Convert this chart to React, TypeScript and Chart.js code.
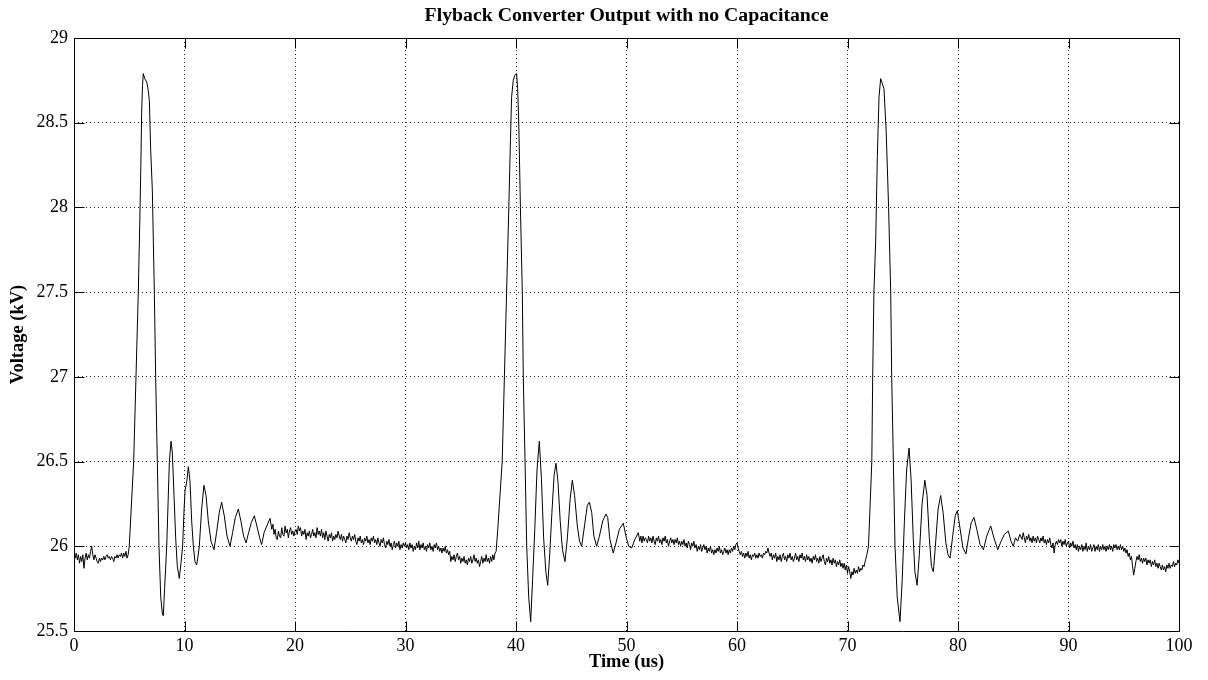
import React, { useEffect, useRef } from "react";
import { Chart, registerables } from "chart.js";

Chart.register(...registerables);

type P = [number, number];

const chartTitle = "Flyback Converter Output with no Capacitance";
const xTitle = "Time (us)";
const yTitle = "Voltage (kV)";
const xMin = 0, xMax = 100, xStep = 10;
const yMin = 25.5, yMax = 29, yStep = 0.5;

const baseline0to5: P[] = [
  [0.0, 25.95], [0.1, 25.93], [0.2, 25.96], [0.3, 25.92], [0.4, 25.95], [0.5, 25.9], [0.6, 25.94], [0.7, 25.91],
  [0.8, 25.95], [0.9, 25.87], [1.0, 25.93], [1.1, 25.96], [1.2, 25.92], [1.3, 25.95], [1.4, 25.93], [1.5, 25.97],
  [1.6, 26.0], [1.7, 25.95], [1.8, 25.92], [1.9, 25.95], [2.0, 25.93], [2.1, 25.91], [2.2, 25.9], [2.3, 25.93],
  [2.4, 25.91], [2.5, 25.93], [2.6, 25.92], [2.7, 25.94], [2.8, 25.92], [2.9, 25.94], [3.0, 25.95], [3.1, 25.93],
  [3.2, 25.94], [3.3, 25.92], [3.4, 25.94], [3.5, 25.93], [3.6, 25.91], [3.7, 25.94], [3.8, 25.93], [3.9, 25.95],
  [4.0, 25.93], [4.1, 25.95], [4.2, 25.94], [4.3, 25.96], [4.4, 25.93], [4.5, 25.96], [4.6, 25.94], [4.7, 25.97],
  [4.8, 25.93], [4.9, 25.95],
];

const pulse1: P[] = [
  [5.0, 26.0], [5.2, 26.25], [5.4, 26.5], [5.61, 27.0], [5.82, 27.5], [5.95, 27.9], [6.06, 28.28], [6.12, 28.56],
  [6.2, 28.72], [6.27, 28.79], [6.4, 28.76], [6.58, 28.74], [6.7, 28.7], [6.82, 28.63], [6.94, 28.34], [7.09, 28.1],
  [7.27, 27.5], [7.39, 27.0], [7.54, 26.5], [7.69, 26.0], [7.85, 25.7], [8.0, 25.6], [8.08, 25.59], [8.2, 25.75],
  [8.39, 26.0], [8.63, 26.5], [8.78, 26.62],
];

const ringing1: P[] = [
  [8.9, 26.55], [9.05, 26.3], [9.2, 26.05], [9.35, 25.88], [9.53, 25.81], [9.68, 25.9], [9.83, 26.0], [9.95, 26.2],
  [10.05, 26.33], [10.2, 26.38], [10.35, 26.47], [10.5, 26.38], [10.65, 26.15], [10.8, 26.0], [10.95, 25.91],
  [11.1, 25.89], [11.2, 25.93], [11.34, 26.0], [11.55, 26.22], [11.76, 26.36], [11.95, 26.3], [12.15, 26.15],
  [12.4, 26.03], [12.67, 25.98], [12.9, 26.08], [13.15, 26.2], [13.36, 26.26], [13.6, 26.18], [13.85, 26.06],
  [14.12, 26.0], [14.35, 26.08], [14.6, 26.17], [14.87, 26.22], [15.1, 26.15], [15.35, 26.06], [15.57, 26.02],
  [15.8, 26.08], [16.05, 26.14], [16.32, 26.18], [16.55, 26.12], [16.8, 26.05], [16.98, 26.01], [17.2, 26.08],
  [17.45, 26.12], [17.74, 26.165], [17.9, 26.1], [18.0, 26.13], [18.1, 26.07], [18.2, 26.1], [18.3, 26.05],
  [18.4, 26.04], [18.5, 26.09], [18.6, 26.06], [18.7, 26.05], [18.8, 26.11], [18.9, 26.07], [19.0, 26.06],
  [19.1, 26.12], [19.2, 26.08], [19.3, 26.1], [19.4, 26.05], [19.5, 26.09], [19.6, 26.11], [19.7, 26.07],
  [19.8, 26.09], [19.9, 26.06], [20.0, 26.09],
];

const drift20to38: P[] = [
  [20.1, 26.1], [20.2, 26.07], [20.3, 26.12], [20.4, 26.09], [20.5, 26.11], [20.6, 26.06], [20.7, 26.09],
  [20.8, 26.07], [20.9, 26.1], [21.0, 26.04], [21.1, 26.08], [21.2, 26.06], [21.3, 26.09], [21.4, 26.05],
  [21.5, 26.07], [21.6, 26.1], [21.7, 26.06], [21.8, 26.08], [21.9, 26.05], [22.0, 26.11], [22.1, 26.07],
  [22.2, 26.09], [22.3, 26.06], [22.4, 26.1], [22.5, 26.05], [22.6, 26.08], [22.7, 26.04], [22.8, 26.09],
  [22.9, 26.06], [23.0, 26.03], [23.1, 26.07], [23.2, 26.05], [23.3, 26.08], [23.4, 26.03], [23.5, 26.06],
  [23.6, 26.04], [23.7, 26.07], [23.8, 26.05], [23.9, 26.09], [24.0, 26.06], [24.1, 26.04], [24.2, 26.07],
  [24.3, 26.03], [24.4, 26.06], [24.5, 26.04], [24.6, 26.02], [24.7, 26.06], [24.8, 26.04], [24.9, 26.08],
  [25.0, 26.05], [25.1, 26.03], [25.2, 26.06], [25.3, 26.04], [25.4, 26.07], [25.5, 26.03], [25.6, 26.01],
  [25.7, 26.05], [25.8, 26.03], [25.9, 26.06], [26.0, 26.02], [26.1, 26.04], [26.2, 26.01], [26.3, 26.05],
  [26.4, 26.03], [26.5, 26.06], [26.6, 26.02], [26.7, 26.04], [26.8, 26.01], [26.9, 26.05], [27.0, 26.03],
  [27.1, 26.06], [27.2, 26.02], [27.3, 26.04], [27.4, 26.01], [27.5, 26.05], [27.6, 26.02], [27.7, 26.0],
  [27.8, 26.04], [27.9, 26.02], [28.0, 26.05], [28.1, 26.01], [28.2, 25.99], [28.3, 26.03], [28.4, 26.01],
  [28.5, 26.04], [28.6, 26.0], [28.7, 26.02], [28.8, 25.98], [28.9, 26.01], [29.0, 26.03], [29.1, 25.99],
  [29.2, 26.02], [29.3, 26.0], [29.4, 26.03], [29.5, 25.98], [29.6, 26.01], [29.7, 25.99], [29.8, 26.02],
  [29.9, 26.0], [30.0, 26.02], [30.1, 25.99], [30.2, 26.01], [30.3, 25.98], [30.4, 26.02], [30.5, 25.99],
  [30.6, 26.01], [30.7, 25.97], [30.8, 26.0], [30.9, 25.98], [31.0, 26.02], [31.1, 25.99], [31.2, 26.03],
  [31.3, 25.98], [31.4, 26.01], [31.5, 25.99], [31.6, 26.02], [31.7, 25.98], [31.8, 26.0], [31.9, 25.97],
  [32.0, 26.01], [32.1, 25.99], [32.2, 26.02], [32.3, 25.98], [32.4, 26.0], [32.5, 25.97], [32.6, 26.01],
  [32.7, 25.99], [32.8, 26.02], [32.9, 25.98], [33.0, 26.0], [33.1, 25.97], [33.2, 25.99], [33.3, 25.96],
  [33.4, 25.99], [33.5, 25.97], [33.6, 26.0], [33.7, 25.96], [33.8, 25.98], [33.9, 25.95], [34.0, 25.97],
  [34.1, 25.91], [34.2, 25.94], [34.3, 25.92], [34.4, 25.95], [34.5, 25.91], [34.6, 25.94], [34.7, 25.96],
  [34.8, 25.92], [34.9, 25.94], [35.0, 25.9], [35.1, 25.93], [35.2, 25.91], [35.3, 25.94], [35.4, 25.9],
  [35.5, 25.92], [35.6, 25.89], [35.7, 25.93], [35.8, 25.91], [35.9, 25.94], [36.0, 25.9], [36.1, 25.92],
  [36.2, 25.95], [36.3, 25.91], [36.4, 25.93], [36.5, 25.9], [36.6, 25.92], [36.7, 25.88], [36.8, 25.91],
  [36.9, 25.94], [37.0, 25.9], [37.1, 25.93], [37.2, 25.91], [37.3, 25.95], [37.4, 25.91], [37.5, 25.93],
  [37.6, 25.9], [37.7, 25.94], [37.8, 25.91], [37.9, 25.95], [38.0, 25.92], [38.1, 25.96],
];

const pulse2: P[] = [
  [38.2, 25.97], [38.35, 26.1], [38.55, 26.3], [38.75, 26.5], [38.95, 27.0], [39.15, 27.5], [39.35, 28.0],
  [39.5, 28.4], [39.6, 28.65], [39.75, 28.75], [39.9, 28.78], [40.05, 28.79], [40.15, 28.7], [40.25, 28.5],
  [40.4, 28.0], [40.57, 27.5], [40.66, 27.0], [40.82, 26.5], [40.97, 26.0], [41.15, 25.7], [41.33, 25.555],
  [41.5, 25.8], [41.7, 26.1], [41.9, 26.45], [42.11, 26.62],
];

const ringing2: P[] = [
  [42.3, 26.4], [42.5, 26.05], [42.7, 25.85], [42.87, 25.77], [43.05, 25.95], [43.25, 26.2], [43.45, 26.42],
  [43.62, 26.49], [43.8, 26.38], [44.0, 26.15], [44.2, 25.98], [44.43, 25.91], [44.65, 26.05], [44.9, 26.28],
  [45.1, 26.39], [45.3, 26.3], [45.55, 26.12], [45.75, 26.03], [45.94, 26.0], [46.2, 26.12], [46.45, 26.24],
  [46.64, 26.26], [46.85, 26.2], [47.05, 26.06], [47.3, 26.0], [47.55, 26.06], [47.85, 26.15], [48.14, 26.19],
  [48.3, 26.17], [48.5, 26.04], [48.8, 25.96], [49.05, 26.02], [49.35, 26.1], [49.71, 26.136], [49.95, 26.06],
  [50.2, 26.0], [50.47, 25.99], [50.75, 26.04], [51.07, 26.08], [51.2, 26.03], [51.3, 26.06], [51.4, 26.02],
  [51.5, 26.06], [51.6, 26.03], [51.7, 26.05],
];

const drift52to71: P[] = [
  [51.8, 26.04], [51.9, 26.02], [52.0, 26.06], [52.1, 26.03], [52.2, 26.05], [52.3, 26.02], [52.4, 26.06],
  [52.5, 26.03], [52.6, 26.01], [52.7, 26.05], [52.8, 26.03], [52.9, 26.06], [53.0, 26.02], [53.1, 26.04],
  [53.2, 26.01], [53.3, 26.05], [53.4, 26.03], [53.5, 26.06], [53.6, 26.02], [53.7, 26.04], [53.8, 26.0],
  [53.9, 26.03], [54.0, 26.05], [54.1, 26.02], [54.2, 26.04], [54.3, 26.01], [54.4, 26.04], [54.5, 26.02],
  [54.6, 26.05], [54.7, 26.01], [54.8, 26.03], [54.9, 26.0], [55.0, 26.03], [55.1, 26.01], [55.2, 26.04],
  [55.3, 26.0], [55.4, 26.02], [55.5, 25.99], [55.6, 26.03], [55.7, 26.01], [55.8, 25.98], [55.9, 26.02],
  [56.0, 26.0], [56.1, 26.03], [56.2, 25.99], [56.3, 26.01], [56.4, 25.97], [56.5, 26.0], [56.6, 25.98],
  [56.7, 26.01], [56.8, 25.97], [56.9, 25.99], [57.0, 26.01], [57.1, 25.98], [57.2, 26.0], [57.3, 25.96],
  [57.4, 25.99], [57.5, 25.97], [57.6, 26.0], [57.7, 25.96], [57.8, 25.98], [57.9, 25.95], [58.0, 25.98],
  [58.1, 25.96], [58.2, 25.99], [58.3, 25.97], [58.4, 26.0], [58.5, 25.96], [58.6, 25.98], [58.7, 25.95],
  [58.8, 25.97], [58.9, 25.99], [59.0, 25.96], [59.1, 25.98], [59.2, 25.95], [59.3, 25.98], [59.4, 25.96],
  [59.5, 25.99], [59.6, 25.97], [59.7, 26.0], [59.8, 25.98], [59.9, 26.01], [60.0, 26.02], [60.1, 25.99],
  [60.2, 25.97], [60.3, 25.95], [60.4, 25.97], [60.5, 25.94], [60.6, 25.96], [60.7, 25.93], [60.8, 25.96],
  [60.9, 25.94], [61.0, 25.97], [61.1, 25.93], [61.2, 25.95], [61.3, 25.92], [61.4, 25.95], [61.5, 25.94],
  [61.6, 25.96], [61.7, 25.93], [61.8, 25.95], [61.9, 25.93], [62.0, 25.96], [62.1, 25.94], [62.2, 25.95],
  [62.3, 25.93], [62.4, 25.96], [62.5, 25.95], [62.6, 25.97], [62.7, 25.96], [62.8, 25.99], [62.9, 25.96],
  [63.0, 25.94], [63.1, 25.96], [63.2, 25.92], [63.3, 25.95], [63.4, 25.93], [63.5, 25.96], [63.6, 25.91],
  [63.7, 25.94], [63.8, 25.92], [63.9, 25.95], [64.0, 25.91], [64.1, 25.94], [64.2, 25.96], [64.3, 25.92],
  [64.4, 25.94], [64.5, 25.91], [64.6, 25.95], [64.7, 25.93], [64.8, 25.96], [64.9, 25.92], [65.0, 25.94],
  [65.1, 25.91], [65.2, 25.93], [65.3, 25.96], [65.4, 25.92], [65.5, 25.94], [65.6, 25.91], [65.7, 25.95],
  [65.8, 25.93], [65.9, 25.96], [66.0, 25.92], [66.1, 25.94], [66.2, 25.91], [66.3, 25.95], [66.4, 25.92],
  [66.5, 25.94], [66.6, 25.91], [66.7, 25.93], [66.8, 25.9], [66.9, 25.94], [67.0, 25.92], [67.1, 25.95],
  [67.2, 25.91], [67.3, 25.93], [67.4, 25.9], [67.5, 25.94], [67.6, 25.91], [67.7, 25.93], [67.8, 25.95],
  [67.9, 25.91], [68.0, 25.89], [68.1, 25.93], [68.2, 25.91], [68.3, 25.94], [68.4, 25.9], [68.5, 25.92],
  [68.6, 25.89], [68.7, 25.93], [68.8, 25.9], [68.9, 25.92], [69.0, 25.88], [69.1, 25.91], [69.2, 25.89],
  [69.3, 25.92], [69.4, 25.88], [69.5, 25.9], [69.6, 25.87], [69.7, 25.9], [69.8, 25.86], [69.9, 25.89],
  [70.0, 25.84], [70.1, 25.88], [70.2, 25.85], [70.3, 25.81], [70.4, 25.85], [70.5, 25.83], [70.6, 25.87],
  [70.7, 25.84], [70.8, 25.86], [70.9, 25.84], [71.0, 25.88], [71.1, 25.85], [71.2, 25.87], [71.3, 25.86],
  [71.4, 25.89], [71.5, 25.88], [71.6, 25.91],
];

const pulse3: P[] = [
  [71.75, 25.95], [71.9, 26.0], [72.05, 26.25], [72.2, 26.5], [72.28, 27.0], [72.39, 27.5], [72.55, 27.8],
  [72.7, 28.3], [72.85, 28.65], [73.0, 28.76], [73.15, 28.73], [73.3, 28.7], [73.5, 28.45], [73.72, 28.0],
  [73.91, 27.5], [74.0, 27.0], [74.15, 26.5], [74.3, 26.0], [74.5, 25.7], [74.75, 25.555], [74.95, 25.8],
  [75.15, 26.15], [75.35, 26.45], [75.57, 26.58],
];

const ringing3: P[] = [
  [75.75, 26.4], [75.95, 26.05], [76.1, 25.85], [76.3, 25.77], [76.5, 25.95], [76.75, 26.25], [77.0, 26.39],
  [77.2, 26.3], [77.4, 26.05], [77.6, 25.88], [77.77, 25.85], [77.95, 26.0], [78.2, 26.22], [78.43, 26.3],
  [78.65, 26.2], [78.9, 26.02], [79.1, 25.95], [79.28, 25.93], [79.5, 26.05], [79.75, 26.18], [79.94, 26.21],
  [80.15, 26.12], [80.45, 25.99], [80.72, 25.955], [80.95, 26.05], [81.2, 26.14], [81.45, 26.17], [81.7, 26.1],
  [82.0, 26.01], [82.3, 25.98], [82.6, 26.06], [82.96, 26.12], [83.25, 26.05], [83.6, 25.98], [83.9, 26.03],
  [84.2, 26.07], [84.55, 26.09], [84.8, 26.03], [85.0, 26.0], [85.2, 26.05], [85.4, 26.03], [85.6, 26.07],
  [85.8, 26.04], [85.9, 26.08],
];

const drift86to100: P[] = [
  [86.0, 26.05], [86.1, 26.02], [86.2, 26.06], [86.3, 26.04], [86.4, 26.07], [86.5, 26.03], [86.6, 26.05],
  [86.7, 26.02], [86.8, 26.06], [86.9, 26.03], [87.0, 26.05], [87.1, 26.02], [87.2, 26.06], [87.3, 26.04],
  [87.4, 26.02], [87.5, 26.05], [87.6, 26.03], [87.7, 26.06], [87.8, 26.02], [87.9, 26.04], [88.0, 26.01],
  [88.1, 26.04], [88.2, 26.02], [88.3, 26.05], [88.4, 26.01], [88.5, 25.99], [88.6, 26.02], [88.7, 25.96],
  [88.8, 26.01], [88.9, 26.03], [89.0, 26.01], [89.1, 26.04], [89.2, 26.02], [89.3, 26.04], [89.4, 26.0],
  [89.5, 26.03], [89.6, 26.01], [89.7, 26.04], [89.8, 26.0], [89.9, 26.02], [90.0, 26.03], [90.1, 25.99],
  [90.2, 26.02], [90.3, 26.0], [90.4, 26.03], [90.5, 25.99], [90.6, 26.01], [90.7, 25.98], [90.8, 26.01],
  [90.9, 25.97], [91.0, 26.0], [91.1, 25.98], [91.2, 26.01], [91.3, 25.97], [91.4, 26.0], [91.5, 25.98],
  [91.6, 26.02], [91.7, 25.97], [91.8, 26.0], [91.9, 25.98], [92.0, 26.01], [92.1, 25.97], [92.2, 25.99],
  [92.3, 26.01], [92.4, 25.97], [92.5, 26.0], [92.6, 25.98], [92.7, 26.01], [92.8, 25.97], [92.9, 26.0],
  [93.0, 25.98], [93.1, 26.01], [93.2, 25.98], [93.3, 26.0], [93.4, 25.97], [93.5, 26.0], [93.6, 25.98],
  [93.7, 26.01], [93.8, 25.98], [93.9, 26.0], [94.0, 25.97], [94.1, 26.01], [94.2, 25.99], [94.3, 26.01],
  [94.4, 25.98], [94.5, 26.0], [94.6, 25.98], [94.7, 26.01], [94.8, 25.98], [94.9, 26.0], [95.0, 25.97],
  [95.1, 25.99], [95.2, 25.96], [95.3, 25.98], [95.4, 25.94], [95.5, 25.96], [95.6, 25.92], [95.7, 25.94],
  [95.8, 25.88], [95.9, 25.83], [96.0, 25.87], [96.1, 25.91], [96.2, 25.94], [96.3, 25.92], [96.4, 25.95],
  [96.5, 25.91], [96.6, 25.93], [96.7, 25.9], [96.8, 25.93], [96.9, 25.91], [97.0, 25.93], [97.1, 25.89],
  [97.2, 25.92], [97.3, 25.9], [97.4, 25.92], [97.5, 25.88], [97.6, 25.91], [97.7, 25.89], [97.8, 25.92],
  [97.9, 25.88], [98.0, 25.9], [98.1, 25.87], [98.2, 25.9], [98.3, 25.88], [98.4, 25.86], [98.5, 25.89],
  [98.6, 25.86], [98.7, 25.88], [98.8, 25.85], [98.9, 25.89], [99.0, 25.87], [99.1, 25.9], [99.2, 25.87],
  [99.3, 25.89], [99.4, 25.88], [99.5, 25.91], [99.6, 25.88], [99.7, 25.9], [99.8, 25.89], [99.9, 25.92],
  [100, 25.9],
];

const segments: P[][] = [
  baseline0to5, pulse1, ringing1, drift20to38, pulse2, ringing2, drift52to71, pulse3, ringing3, drift86to100,
];

const FONT = "'Liberation Serif', 'Times New Roman', serif";

const frameAndInnerTicks = {
  id: "frameAndInnerTicks",
  afterDatasetsDraw(chart: any) {
    const { ctx, chartArea } = chart;
    const xs = chart.scales.x;
    const ys = chart.scales.y;
    const L = 10;
    ctx.save();
    ctx.strokeStyle = "#000";
    ctx.lineWidth = 1;
    ctx.setLineDash([]);
    const l = Math.round(chartArea.left) + 0.5;
    const r = Math.round(chartArea.right) + 0.5;
    const t = Math.round(chartArea.top) + 0.5;
    const b = Math.round(chartArea.bottom) + 0.5;
    ctx.beginPath();
    ctx.rect(l, t, r - l, b - t);
    ctx.stroke();
    ctx.beginPath();
    xs.ticks.forEach((tk: any) => {
      const px = Math.round(xs.getPixelForValue(tk.value)) + 0.5;
      ctx.moveTo(px, b);
      ctx.lineTo(px, b - L);
      ctx.moveTo(px, t);
      ctx.lineTo(px, t + L);
    });
    ys.ticks.forEach((tk: any) => {
      const py = Math.round(ys.getPixelForValue(tk.value)) + 0.5;
      ctx.moveTo(l, py);
      ctx.lineTo(l + L, py);
      ctx.moveTo(r, py);
      ctx.lineTo(r - L, py);
    });
    ctx.stroke();
    // title centred over the plot area
    ctx.fillStyle = "#000";
    ctx.font = `bold 19.8px ${FONT}`;
    ctx.textAlign = "center";
    ctx.textBaseline = "middle";
    ctx.fillText(chartTitle, (chartArea.left + chartArea.right) / 2, 16);
    ctx.restore();
  },
};

export default function App() {
  const canvasRef = useRef<HTMLCanvasElement | null>(null);

  useEffect(() => {
    const canvas = canvasRef.current;
    if (!canvas) return;
    const data = segments.flat().map(([x, y]) => ({ x, y }));
    const chart = new Chart(canvas, {
      type: "line",
      data: {
        datasets: [
          {
            data,
            borderColor: "#000",
            borderWidth: 1,
            pointRadius: 0,
            tension: 0,
            fill: false,
          },
        ],
      },
      options: {
        animation: false,
        responsive: false,
        maintainAspectRatio: false,
        devicePixelRatio: 1,
        layout: { padding: { left: 0, right: 29, top: 38, bottom: 0 } },
        plugins: {
          legend: { display: false },
          tooltip: { enabled: false },
          title: { display: false },
        },
        scales: {
          x: {
            type: "linear",
            min: xMin,
            max: xMax,
            afterFit: (s: any) => {
              s.height = 49;
            },
            ticks: {
              stepSize: xStep,
              color: "#000",
              padding: 4,
              maxRotation: 0,
              font: { family: FONT, size: 18 },
            },
            grid: {
              drawTicks: false,
              color: "rgba(0,0,0,0.85)",
              lineWidth: 1,
            },
            border: { display: false, dash: [1, 3] },
            title: {
              display: true,
              text: xTitle,
              color: "#000",
              font: { family: FONT, size: 18.5, weight: "bold", lineHeight: 1.2 },
              padding: { top: 0, bottom: 6.5 },
            },
          },
          y: {
            type: "linear",
            min: yMin,
            max: yMax,
            afterFit: (s: any) => {
              s.width = 74;
            },
            ticks: {
              stepSize: yStep,
              color: "#000",
              padding: 6,
              font: { family: FONT, size: 18 },
              callback: (v: any) => String(Number(v)),
            },
            grid: {
              drawTicks: false,
              color: "rgba(0,0,0,0.85)",
              lineWidth: 1,
            },
            border: { display: false, dash: [1, 3] },
            title: {
              display: true,
              text: yTitle,
              color: "#000",
              font: { family: FONT, size: 18.5, weight: "bold", lineHeight: 1.2 },
              padding: { top: 7, bottom: 0 },
            },
          },
        },
      },
      plugins: [frameAndInnerTicks],
    });
    return () => chart.destroy();
  }, []);

  return (
    <div style={{ position: "fixed", left: 0, top: 0, width: 1208, height: 680, background: "#fff" }}>
      <canvas ref={canvasRef} width={1208} height={680} style={{ display: "block" }} />
    </div>
  );
}
